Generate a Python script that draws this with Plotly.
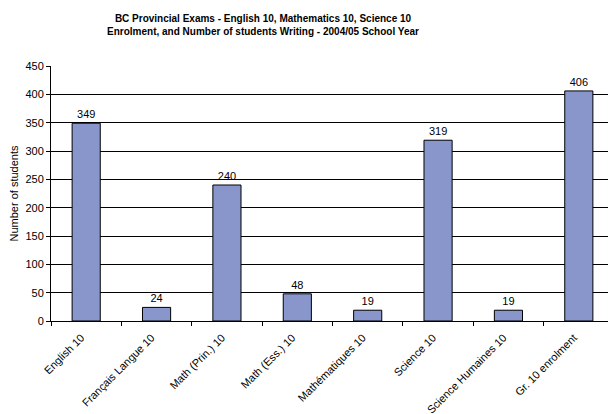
import plotly.graph_objects as go

categories = ["English 10", "Français Langue 10", "Math (Prin.) 10", "Math (Ess.) 10",
              "Mathématiques 10", "Science 10", "Science Humaines 10", "Gr. 10 enrolment"]
values = [349, 24, 240, 48, 19, 319, 19, 406]
y_ticks = [0, 50, 100, 150, 200, 250, 300, 350, 400, 450]

FONT = "Liberation Sans, Arial"

fig = go.Figure(go.Bar(
    x=categories, y=values, width=0.4,
    marker=dict(color="#8896CC", line=dict(color="#000000", width=1)),
    text=[str(v) for v in values], textposition="outside",
    textfont=dict(family=FONT, size=11, color="#000000"),
    cliponaxis=False,
))

# page body has an 8px margin, so the figure is 608x406 and sits at (8, 8)
fig.update_layout(
    width=608, height=406,
    margin=dict(l=43, r=2, t=58, b=93, autoexpand=False),
    paper_bgcolor="white", plot_bgcolor="white",
    font=dict(family=FONT, size=11, color="#000000"),
    title=dict(
        text="<b>BC Provincial Exams - English 10, Mathematics 10, Science 10<br>Enrolment, and Number of students Writing - 2004/05 School Year</b>",
        x=(263 - 8) / 608, xanchor="center", xref="container", y=0.965, yanchor="top",
        font=dict(family=FONT, size=10, color="#000000"),
    ),
    showlegend=False,
    bargap=0.6,
)
fig.update_xaxes(
    type="category", tickangle=-45, tickson="boundaries", ticks="outside", ticklen=4,
    tickcolor="#000000", showline=True, linecolor="#000000", linewidth=1,
    showgrid=False, tickfont=dict(size=11), automargin=False,
    ticklabelstandoff=5, ticklabelshift=-5,
)
fig.update_yaxes(
    range=[0, 450], tickvals=y_ticks, ticks="outside", ticklen=4, tickcolor="#000000",
    showline=True, linecolor="#000000", linewidth=1, showgrid=True, gridcolor="#000000",
    gridwidth=1, zeroline=False, tickfont=dict(size=11), automargin=False,
    title=dict(text="Number of students", font=dict(size=11), standoff=10),
)
fig.write_html("out.html")
